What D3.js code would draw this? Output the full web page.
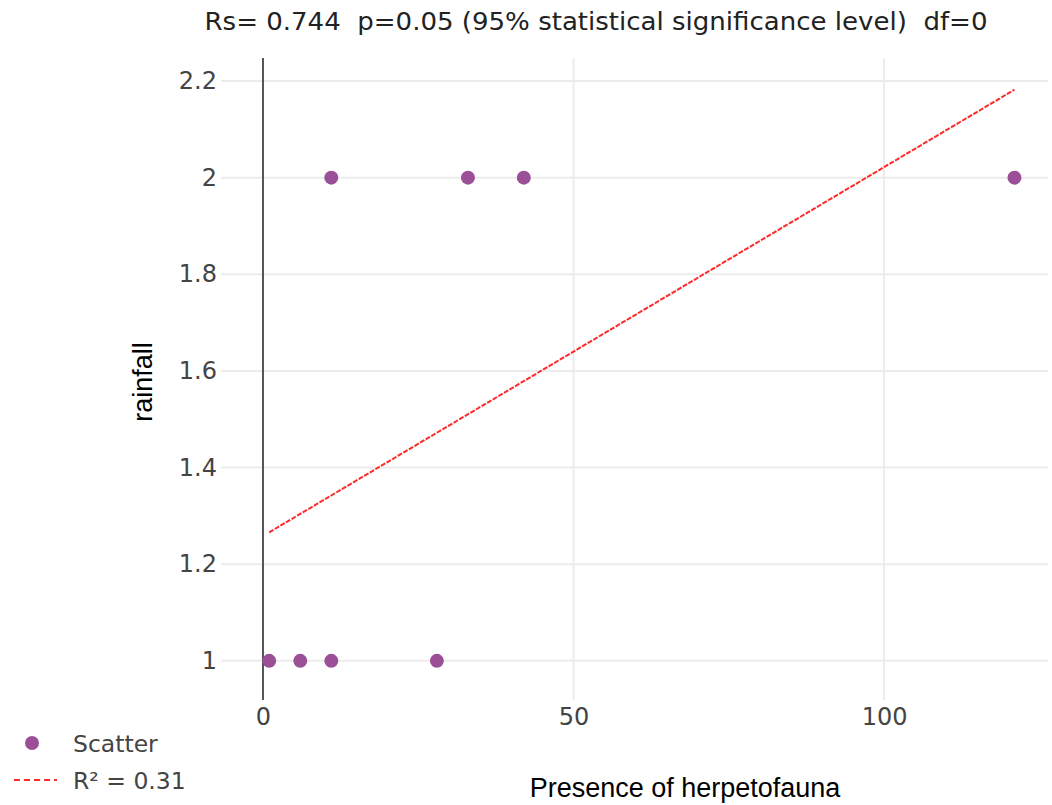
<!DOCTYPE html>
<html>
<head>
<meta charset="utf-8">
<script src="https://cdn.jsdelivr.net/npm/d3@7"></script>
<style>
  body { margin: 0; background: #fff; }
</style>
</head>
<body>
<div id="chart"></div>
<script>
// data
var herpX = [1, 6, 11, 28, 11, 33, 42, 121];
var rainY = [1, 1, 1, 1, 2, 2, 2, 2];
var fitX = [1, 121];
var fitY = [1.266, 2.182];
var xTicks = [0, 50, 100];
var yTicks = [1, 1.2, 1.4, 1.6, 1.8, 2, 2.2];

var width = 1052, height = 805;
var plot = {left: 221, right: 1048, top: 58, bottom: 700};
var tickFont = "DejaVu Sans, Verdana, sans-serif";

var svg = d3.select("#chart").append("svg")
    .attr("width", width)
    .attr("height", height);

var x = d3.scaleLinear().domain([-6.76, 126.4]).range([plot.left, plot.right]);
var y = d3.scaleLinear().domain([0.919, 2.2476]).range([plot.bottom, plot.top]);

// grid
svg.append("g").selectAll("line.hgrid")
    .data(yTicks).enter().append("line")
    .attr("x1", plot.left).attr("x2", plot.right)
    .attr("y1", d => y(d)).attr("y2", d => y(d))
    .attr("stroke", "#ececec").attr("stroke-width", 2);

svg.append("g").selectAll("line.vgrid")
    .data(xTicks.filter(d => d != 0)).enter().append("line")
    .attr("y1", plot.top).attr("y2", plot.bottom)
    .attr("x1", d => x(d)).attr("x2", d => x(d))
    .attr("stroke", "#ececec").attr("stroke-width", 2);

// zero line
svg.append("line")
    .attr("x1", x(0)).attr("x2", x(0))
    .attr("y1", plot.top).attr("y2", plot.bottom)
    .attr("stroke", "#555").attr("stroke-width", 2);

// y axis labels
var yAxis = d3.axisLeft(y).tickValues(yTicks).tickSize(0).tickPadding(4)
    .tickFormat(d3.format("~g"));
var gy = svg.append("g")
    .attr("transform", "translate(" + plot.left + ",0)")
    .call(yAxis);
gy.select(".domain").remove();
gy.selectAll("text")
    .attr("font-family", tickFont)
    .attr("font-size", 24)
    .attr("fill", "#444");

// x axis labels
var xAxis = d3.axisBottom(x).tickValues(xTicks).tickSize(0).tickPadding(8);
var gx = svg.append("g")
    .attr("transform", "translate(0," + plot.bottom + ")")
    .call(xAxis);
gx.select(".domain").remove();
gx.selectAll("text")
    .attr("font-family", tickFont)
    .attr("font-size", 24)
    .attr("fill", "#444");

// regression line
var line = d3.line().x(d => x(d[0])).y(d => y(d[1]));
svg.append("path")
    .datum(d3.zip(fitX, fitY))
    .attr("d", line)
    .attr("fill", "none")
    .attr("stroke", "#ff2a2a")
    .attr("stroke-width", 2)
    .attr("stroke-dasharray", "5,1.5");

// points
svg.append("g").selectAll("circle")
    .data(d3.zip(herpX, rainY)).enter().append("circle")
    .attr("cx", d => x(d[0]))
    .attr("cy", d => y(d[1]))
    .attr("r", 7)
    .attr("fill", "#9b4f96");

// title
svg.append("text")
    .attr("x", 596).attr("y", 30)
    .attr("text-anchor", "middle")
    .attr("font-family", tickFont)
    .attr("font-size", 25)
    .attr("textLength", 783)
    .attr("lengthAdjust", "spacingAndGlyphs")
    .attr("fill", "#222")
    .style("white-space", "pre")
    .text("Rs= 0.744  p=0.05 (95% statistical significance level)  df=0");

// axis titles
svg.append("text")
    .attr("transform", "translate(152,382) rotate(-90)")
    .attr("text-anchor", "middle")
    .attr("font-family", "Liberation Sans, Arial, sans-serif")
    .attr("font-size", 27)
    .attr("fill", "#000")
    .text("rainfall");

svg.append("text")
    .attr("x", 685).attr("y", 797)
    .attr("text-anchor", "middle")
    .attr("font-family", "Liberation Sans, Arial, sans-serif")
    .attr("font-size", 27)
    .attr("fill", "#000")
    .text("Presence of herpetofauna");

// legend
var legend = svg.append("g").attr("font-family", tickFont)
    .attr("font-size", 23.5).attr("fill", "#444");
legend.append("circle").attr("cx", 32).attr("cy", 743).attr("r", 7).attr("fill", "#9b4f96");
legend.append("text").attr("x", 73).attr("y", 752).text("Scatter");
legend.append("line").attr("x1", 14).attr("x2", 57).attr("y1", 780).attr("y2", 780)
    .attr("stroke", "#ff2a2a").attr("stroke-width", 2).attr("stroke-dasharray", "6,4");
legend.append("text").attr("x", 73).attr("y", 789).text("R² = 0.31");
</script>
</body>
</html>
